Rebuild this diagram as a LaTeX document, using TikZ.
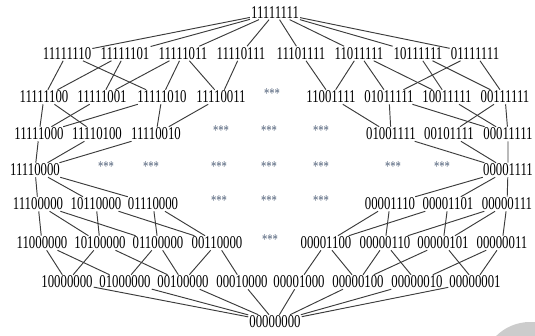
\documentclass[tikz,border=0pt]{standalone}
\usepackage{fontspec}
\setmainfont{Liberation Serif}
\newfontfamily\bitfont[FakeStretch=0.71]{Liberation Serif}
\usetikzlibrary{calc}
\definecolor{linkgray}{HTML}{3C3C3C}
\definecolor{stargray}{HTML}{52627A}

\begin{document}
\begin{tikzpicture}[x=1pt,y=-1pt,
 bits/.style={inner sep=1pt, font=\bitfont\fontsize{18pt}{18pt}\selectfont, text=black},
 stars/.style={inner sep=0pt, font=\bitfont\fontsize{15pt}{15pt}\selectfont, text=stargray},
 link/.style={draw=linkgray, line width=0.95pt}]

    \useasboundingbox (0,0) rectangle (535,335);
    \begin{scope}
    \clip (0,0) rectangle (535,335);
    \fill[black!20] (530,370) circle (48);
    \end{scope}

    % top and first level
    \node[bits] (n11111111) at (275,12.5) {11111111};

    \node[bits] (n11111110) at (67,53.5) {11111110};
    \node[bits] (n11111101) at (125,53.5) {11111101};
    \node[bits] (n11111011) at (183,53.5) {11111011};
    \node[bits] (n11110111) at (241,53.5) {11110111};
    \node[bits] (n11101111) at (301,53.5) {11101111};
    \node[bits] (n11011111) at (359,53.5) {11011111};
    \node[bits] (n10111111) at (418,53.5) {10111111};
    \node[bits] (n01111111) at (475,53.5) {01111111};

    \node[bits] (n11111100) at (44,97) {11111100};
    \node[bits] (n11111001) at (102,97) {11111001};
    \node[bits] (n11111010) at (162,97) {11111010};
    \node[bits] (n11110011) at (221,97) {11110011};
    \node[stars] (s2a) at (272,94) {***};
    \node[bits] (n11001111) at (331,97) {11001111};
    \node[bits] (n01011111) at (389,97) {01011111};
    \node[bits] (n10011111) at (447,97) {10011111};
    \node[bits] (n00111111) at (505,97) {00111111};

    \node[bits] (n11111000) at (39,134) {11111000};
    \node[bits] (n11110100) at (97,134) {11110100};
    \node[bits] (n11110010) at (156,134) {11110010};
    \node[stars] (s3a) at (221,131) {***};
    \node[stars] (s3b) at (269,131) {***};
    \node[stars] (s3c) at (321,131) {***};
    \node[bits] (n01001111) at (391,134) {01001111};
    \node[bits] (n00101111) at (449,134) {00101111};
    \node[bits] (n00011111) at (508,134) {00011111};

    % middle level
    \node[bits] (n11110000) at (35,170) {11110000};
    \node[stars] (s4a) at (106,167) {***};
    \node[stars] (s4b) at (151,167) {***};
    \node[stars] (s4c) at (219,167) {***};
    \node[stars] (s4d) at (269,167) {***};
    \node[stars] (s4e) at (321,167) {***};
    \node[stars] (s4f) at (393,167) {***};
    \node[stars] (s4g) at (442,167) {***};
    \node[bits] (n00001111) at (508,170) {00001111};

    \node[bits] (n11100000) at (38,204) {11100000};
    \node[bits] (n10110000) at (96,204) {10110000};
    \node[bits] (n01110000) at (153,204) {01110000};
    \node[stars] (s5a) at (219,201) {***};
    \node[stars] (s5b) at (269,201) {***};
    \node[stars] (s5c) at (321,201) {***};
    \node[bits] (n00001110) at (390,204) {00001110};
    \node[bits] (n00001101) at (448,204) {00001101};
    \node[bits] (n00000111) at (507,204) {00000111};

    \node[bits] (n11000000) at (42,243) {11000000};
    \node[bits] (n10100000) at (100,243) {10100000};
    \node[bits] (n01100000) at (158,243) {01100000};
    \node[bits] (n00110000) at (217,243) {00110000};
    \node[stars] (s6a) at (270,240) {***};
    \node[bits] (n00001100) at (326,243) {00001100};
    \node[bits] (n00000110) at (385,243) {00000110};
    \node[bits] (n00000101) at (443,243) {00000101};
    \node[bits] (n00000011) at (502,243) {00000011};

    \node[bits] (n10000000) at (67,282) {10000000};
    \node[bits] (n01000000) at (125,282) {01000000};
    \node[bits] (n00100000) at (183,282) {00100000};
    \node[bits] (n00010000) at (242,282) {00010000};
    \node[bits] (n00001000) at (299,282) {00001000};
    \node[bits] (n00000100) at (358,282) {00000100};
    \node[bits] (n00000010) at (417,282) {00000010};
    \node[bits] (n00000001) at (475,282) {00000001};

    \node[bits] (n00000000) at (275,322) {00000000};

    % links, upper half
    \draw[link] (n11111111) -- (n11111110) (n11111111) -- (n11111101)
                (n11111111) -- (n11111011) (n11111111) -- (n11110111)
                (n11111111) -- (n11101111) (n11111111) -- (n11011111)
                (n11111111) -- (n10111111) (n11111111) -- (n01111111);

    \draw[link] (n11111110) -- (n11111100) (n11111110) -- (n11111010);
    \draw[link] (n11111101) -- (n11111100) (n11111101) -- (n11111001);
    \draw[link] (n11111011) -- (n11111010) (n11111011) -- (n11111001) (n11111011) -- (n11110011);
    \draw[link] (n11110111) -- (n11110011);
    \draw[link] (n11101111) -- (n11001111);
    \draw[link] (n11011111) -- (n11001111) (n11011111) -- (n01011111) (n11011111) -- (n10011111);
    \draw[link] (n10111111) -- (n10011111) (n10111111) -- (n00111111);
    \draw[link] (n01111111) -- (n01011111) (n01111111) -- (n00111111);

    \draw[link] (n11111100) -- (n11111000) (n11111100) -- (n11110100);
    \draw[link] (n11111001) -- (n11111000);
    \draw[link] (n11111010) -- (n11111000) (n11111010) -- (n11110010);
    \draw[link] (n11110011) -- (n11110010);
    \draw[link] (n11001111) -- (n01001111);
    \draw[link] (n01011111) -- (n01001111) (n01011111) -- (n00011111);
    \draw[link] (n10011111) -- (n00011111);
    \draw[link] (n00111111) -- (n00101111) (n00111111) -- (n00011111);

    \draw[link] (n11111000) -- (n11110000) (n11110100) -- (n11110000) (n11110010) -- (n11110000);
    \draw[link] (n01001111) -- (n00001111) (n00101111) -- (n00001111) (n00011111) -- (n00001111);

    % links, lower half
    \draw[link] (n11110000) -- (n11100000) (n11110000) -- (n10110000) (n11110000) -- (n01110000);
    \draw[link] (n00001111) -- (n00001110) (n00001111) -- (n00001101) (n00001111) -- (n00000111);

    \draw[link] (n11100000) -- (n11000000) (n11100000) -- (n10100000) (n11100000) -- (n01100000);
    \draw[link] (n10110000) -- (n10100000) (n10110000) -- (n00110000);
    \draw[link] (n01110000) -- (n01100000) (n01110000) -- (n00110000);
    \draw[link] (n00001110) -- (n00001100) (n00001110) -- (n00000110);
    \draw[link] (n00001101) -- (n00001100) (n00001101) -- (n00000101);
    \draw[link] (n00000111) -- (n00000110) (n00000111) -- (n00000101) (n00000111) -- (n00000011);

    \draw[link] (n11000000) -- (n10000000) (n11000000) -- (n01000000);
    \draw[link] (n10100000) -- (n10000000) (n10100000) -- (n00100000);
    \draw[link] (n01100000) -- (n01000000) (n01100000) -- (n00100000);
    \draw[link] (n00110000) -- (n00100000) (n00110000) -- (n00010000);
    \draw[link] (n00001100) -- (n00001000) (n00001100) -- (n00000100);
    \draw[link] (n00000110) -- (n00000100) (n00000110) -- (n00000010);
    \draw[link] (n00000101) -- (n00000100) (n00000101) -- (n00000001);
    \draw[link] (n00000011) -- (n00000010) (n00000011) -- (n00000001);

    \draw[link] (n10000000) -- (n00000000) (n01000000) -- (n00000000)
                (n00100000) -- (n00000000) (n00010000) -- (n00000000)
                (n00001000) -- (n00000000) (n00000100) -- (n00000000)
                (n00000010) -- (n00000000) (n00000001) -- (n00000000);

\end{tikzpicture}
\end{document}
